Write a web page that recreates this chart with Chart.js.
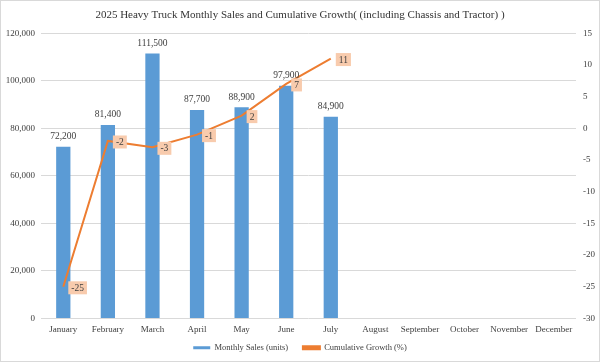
<!DOCTYPE html>
<html>
<head>
<meta charset="utf-8">
<script src="https://cdn.jsdelivr.net/npm/chart.js@4.4.1/dist/chart.umd.min.js"></script>
<style>
  html, body { margin: 0; padding: 0; background: #fff; }
  #wrap { width: 600px; height: 362px; position: relative; }
</style>
</head>
<body>
<div id="wrap"><canvas id="chart" width="600" height="362"></canvas></div>
<script>
/* Heavy truck monthly sales + cumulative growth */

const months      = ['January', 'February', 'March', 'April', 'May', 'June',
                     'July', 'August', 'September', 'October', 'November', 'December'];
const salesUnits  = [72200, 81400, 111500, 87700, 88900, 97900, 84900];
const cumGrowth   = [-25, -2, -3, -1, 2, 7, 11];
const salesTicks  = [0, 20000, 40000, 60000, 80000, 100000, 120000];
const growthTicks = [-30, -25, -20, -15, -10, -5, 0, 5, 10, 15];

const SERIF = "'Liberation Serif', 'Times New Roman', serif";
const BLUE  = '#5B9BD5';
const ORNG  = '#ED7D31';
const TXT   = '#404040';

const fmtNum = n => n.toLocaleString('en-US');

// value labels + outer frame
const labelPlugin = {
  id: 'valueLabels',
  afterDatasetsDraw(chart) {
    const ctx = chart.ctx;
    ctx.save();
    ctx.textAlign = 'center';
    ctx.textBaseline = 'middle';

    // bar values above each bar (dataset 1)
    ctx.font = `9.5px ${SERIF}`;
    ctx.fillStyle = TXT;
    chart.getDatasetMeta(1).data.forEach((el, i) => {
      ctx.fillText(fmtNum(salesUnits[i]), el.x, el.y - 10);
    });

    // growth values in little boxes right of the points (dataset 0)
    chart.getDatasetMeta(0).data.forEach((el, i) => {
      const txt = String(cumGrowth[i]);
      const w = ctx.measureText(txt).width + 6;
      const h = 13;
      const x = el.x + 5;
      const y = el.y + 1 - h / 2;
      ctx.fillStyle = '#F8CBAD';
      ctx.fillRect(x, y, w, h);
      ctx.fillStyle = TXT;
      ctx.fillText(txt, x + w / 2, y + h / 2 + 0.5);
    });
    ctx.restore();
  },
  afterDraw(chart) {
    const ctx = chart.ctx;
    ctx.save();
    ctx.strokeStyle = '#D9D9D9';
    ctx.lineWidth = 1;
    ctx.strokeRect(0.5, 0.5, chart.width - 1, chart.height - 1);
    ctx.restore();
  }
};

new Chart(document.getElementById('chart'), {
  data: {
    labels: months,
    datasets: [
      {
        type: 'line',
        label: 'Cumulative Growth (%)',
        data: cumGrowth,
        yAxisID: 'y1',
        borderColor: ORNG,
        backgroundColor: ORNG,
        borderWidth: 2,
        pointRadius: 0,
        tension: 0,
        order: 0
      },
      {
        type: 'bar',
        label: 'Monthly Sales (units)',
        data: salesUnits,
        yAxisID: 'y',
        backgroundColor: BLUE,
        categoryPercentage: 1,
        barPercentage: 0.32,
        order: 1
      }
    ]
  },
  options: {
    responsive: false,
    animation: false,
    layout: { padding: { top: 0, right: 0, bottom: 0, left: 0 } },
    plugins: {
      title: {
        display: true,
        text: '2025 Heavy Truck Monthly Sales and Cumulative Growth( (including Chassis and Tractor) )',
        color: '#333',
        font: { family: SERIF, size: 11, weight: 'normal' },
        padding: { top: 9, bottom: 11 }
      },
      legend: {
        position: 'bottom',
        reverse: true,
        labels: {
          color: TXT,
          font: { family: SERIF, size: 8.5, lineHeight: 1 },
          boxWidth: 17,
          boxHeight: 3,
          padding: 2,
          generateLabels: ch => Chart.defaults.plugins.legend.labels.generateLabels(ch)
            .map(l => l.datasetIndex === 1 ? { ...l, text: l.text + '      ' } : l)
        }
      },
      tooltip: { enabled: false }
    },
    scales: {
      x: {
        grid: { display: false, drawTicks: false },
        border: { display: false },
        ticks: { color: TXT, font: { family: SERIF, size: 9, lineHeight: 1 }, maxRotation: 0, autoSkip: false, padding: 7 }
      },
      y: {
        position: 'left',
        min: 0,
        max: 120000,
        afterBuildTicks: s => { s.ticks = salesTicks.map(v => ({ value: v })); },
        afterFit: s => { s.width = 41; },
        grid: { color: '#D9D9D9', drawTicks: false },
        border: { display: false },
        ticks: { color: TXT, font: { family: SERIF, size: 9 }, padding: 6, callback: v => fmtNum(v) }
      },
      y1: {
        position: 'right',
        min: -30,
        max: 15,
        afterBuildTicks: s => { s.ticks = growthTicks.map(v => ({ value: v })); },
        afterFit: s => { s.width = 24; },
        grid: { display: false, drawTicks: false },
        border: { display: false },
        ticks: { color: TXT, font: { family: SERIF, size: 9 }, padding: 7 }
      }
    }
  },
  plugins: [labelPlugin]
});
</script>
</body>
</html>
